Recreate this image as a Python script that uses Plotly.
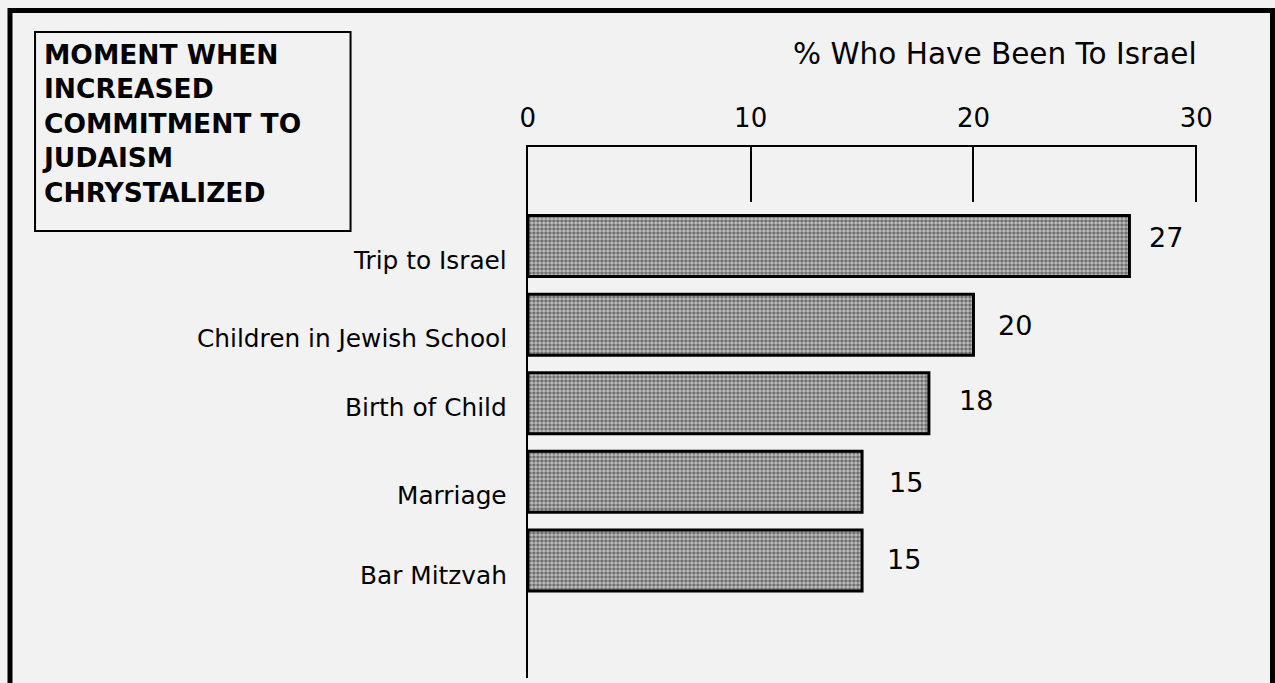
import plotly.graph_objects as go

categories = ["Trip to Israel", "Children in Jewish School", "Birth of Child", "Marriage", "Bar Mitzvah"]
values = [27, 20, 18, 15, 15]
tick_values = [0, 10, 20, 30]
tick_labels = ["0", "10", "20", "30"]
axis_title = "% Who Have Been To Israel"
box_title = "MOMENT WHEN<br>INCREASED<br>COMMITMENT TO<br>JUDAISM<br>CHRYSTALIZED"

W, H = 1275, 683
# observed horizontal rendering transform of this environment
OFFX, WEFF = 8, 1250
FONT = "DejaVu Sans"
BG = "#f2f2f2"

def px_x(p):
    return (p - OFFX) / WEFF

def px_y(p):
    return 1 - p / H

fig = go.Figure()
fig.add_trace(go.Bar(
    x=values, y=categories, orientation="h", width=0.776,
    marker=dict(
        color="#999999",
        line=dict(color="black", width=3),
        pattern=dict(shape=".", fgcolor="#161616", bgcolor="#c4c4c4", size=4, solidity=0.6),
    ),
    hoverinfo="skip",
))

annotations = []
label_nudge = [-14, -14, -4, -14, -15]
for c, n in zip(categories, label_nudge):
    annotations.append(dict(x=0, y=c, xref="x", yref="y", text=c, showarrow=False,
                            xanchor="right", yanchor="middle", xshift=-19, yshift=n,
                            font=dict(family=FONT, size=24.8, color="black")))
value_dx = [18, 23, 28, 25, 23]
value_dy = [9, -1, 3, -1, 1]
for c, v, dx, dy in zip(categories, values, value_dx, value_dy):
    annotations.append(dict(x=v, y=c, xref="x", yref="y", text=str(v), showarrow=False,
                            xanchor="left", yanchor="middle", xshift=dx, yshift=dy,
                            font=dict(family=FONT, size=27, color="black")))
annotations.append(dict(x=px_x(1197), y=px_y(54), xref="paper", yref="paper", text=axis_title, showarrow=False,
                        xanchor="right", yanchor="middle",
                        font=dict(family=FONT, size=29.5, color="black")))
annotations.append(dict(x=px_x(40), y=px_y(37), xref="paper", yref="paper", text="<b>" + box_title + "</b>",
                        showarrow=False, xanchor="left", yanchor="top", align="left",
                        font=dict(family=FONT, size=26.5, color="black")))

shapes = [
    dict(type="rect", xref="paper", yref="paper", x0=px_x(10), x1=px_x(1270.5), y0=px_y(10.5), y1=px_y(720),
         line=dict(color="black", width=5), fillcolor="rgba(0,0,0,0)", layer="above"),
    dict(type="rect", xref="paper", yref="paper", x0=px_x(35), x1=px_x(350), y0=px_y(32), y1=px_y(231),
         line=dict(color="black", width=2), fillcolor="rgba(0,0,0,0)"),
]

fig.update_layout(
    width=W, height=H,
    margin=dict(l=0, r=0, t=0, b=0),
    paper_bgcolor=BG, plot_bgcolor=BG,
    showlegend=False,
    annotations=annotations,
    shapes=shapes,
    xaxis=dict(
        domain=[px_x(527), px_x(1195.5)], range=[0, 30.05], side="top",
        showline=True, linecolor="black", linewidth=2,
        tickvals=tick_values, ticktext=tick_labels,
        ticks="inside", ticklen=55, tickwidth=2, tickcolor="black",
        showgrid=False, zeroline=False, ticklabelstandoff=8,
        tickfont=dict(family=FONT, size=26, color="black"),
    ),
    yaxis=dict(
        domain=[px_y(678), px_y(147)], range=[5.495, -1.26],
        showline=True, linecolor="black", linewidth=2,
        showticklabels=False, ticks="", showgrid=False, zeroline=False,
    ),
)

fig.write_html("out.html")
